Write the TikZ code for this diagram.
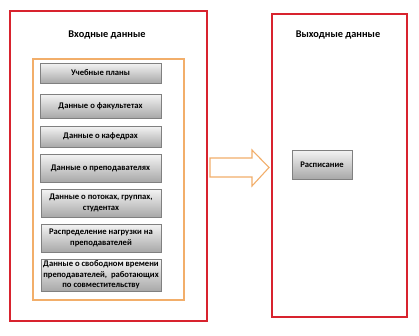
\documentclass[tikz,border=0pt]{standalone}
\usepackage{fontspec}
\setmainfont{Carlito}
\usetikzlibrary{shadows}
\definecolor{redb}{HTML}{D8232E}
\definecolor{orb}{HTML}{F2AE6A}
\definecolor{gtop}{HTML}{F4F4F4}
\definecolor{gbot}{HTML}{A8A8A8}
\definecolor{gline}{HTML}{808080}
\tikzset{
  frame/.style={draw=redb,line width=1.3pt},
  inner/.style={draw=orb,line width=1.1pt},
  databox/.style={draw=gline,line width=0.6pt,top color=gtop,bottom color=gbot,
    drop shadow={shadow xshift=0.8pt,shadow yshift=-0.8pt,opacity=0.35},
    font=\bfseries\fontsize{8.6}{10.3}\selectfont,align=center,inner sep=1pt},
  title/.style={font=\bfseries\fontsize{10.3}{12}\selectfont},
  bigarrow/.style={draw=orb,line width=1.1pt,fill=white}
}
\begin{document}
\begin{tikzpicture}[x=1pt,y=-1pt]
\useasboundingbox (0,0) rectangle (419,335);
\fill[white] (0,0) rectangle (419,335);
% frames
\draw[frame] (10,11) rectangle (207,321);
\draw[frame] (272,14) rectangle (407,317);
\node[title] (tin) at (107,35) {Входные данные};
\node[title] (tout) at (338,35) {Выходные данные};
\draw[inner] (33,59) rectangle (184,300);
% boxes
\node[databox,minimum width=121pt,minimum height=20pt] (b1) at (100.5,73) {Учебные планы};
\node[databox,minimum width=121pt,minimum height=24pt] (b2) at (100.5,106) {Данные о факультетах};
\node[databox,minimum width=121pt,minimum height=21pt] (b3) at (100.5,136.5) {Данные о кафедрах};
\node[databox,minimum width=121pt,minimum height=28pt] (b4) at (100.5,168) {Данные о преподавателях};
\node[databox,minimum width=120pt,minimum height=28pt] (b5) at (101,203) {Данные о потоках, группах,\\студентах};
\node[databox,minimum width=120pt,minimum height=28pt] (b6) at (101,238) {Распределение нагрузки на\\преподавателей};
\node[databox,minimum width=120pt,minimum height=32pt] (b7) at (101,275) {Данные о свободном времени\\преподавателей,\ \ работающих\\по совместительству};
\node[databox,minimum width=60pt,minimum height=29pt] (r) at (322,164.5) {Расписание};
% arrow
\draw[bigarrow] (210,158) -- (252,158) -- (252,150) -- (269,167.5) -- (252,186) -- (252,177) -- (210,177) -- cycle;
\end{tikzpicture}
\end{document}
